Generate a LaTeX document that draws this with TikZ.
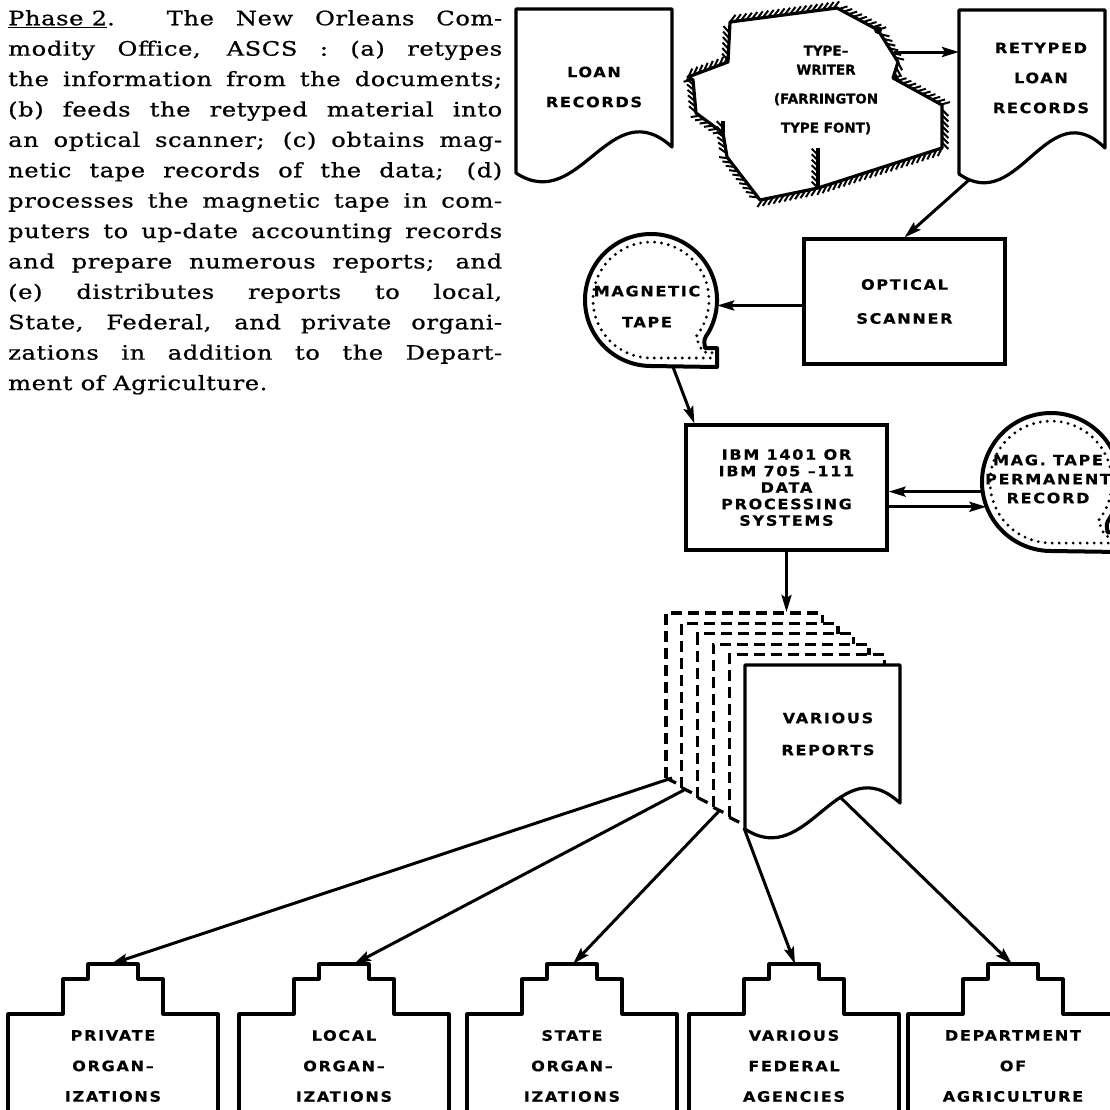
\documentclass[tikz,border=0pt]{standalone}
\usepackage{fontspec}
\usetikzlibrary{arrows.meta,decorations.pathreplacing}

\newfontfamily\txtfont{DejaVu Serif}[FakeStretch=1.22,LetterSpace=3,FakeBold=0.8]
\newfontfamily\lblfont{DejaVu Sans}[FakeStretch=1.12,LetterSpace=12,FakeBold=0.5]
\newfontfamily\twfont{DejaVu Sans}[FakeBold=0.8]

% one justified line of the paragraph
\newcommand{\jl}[1]{\makebox[494pt][s]{#1}}

% document outline: x0, y0, width
\newcommand{\drawdoc}[3]{%
  \draw[docline] (#1,#2+164) -- (#1,#2) -- (#1+#3,#2) -- (#1+#3,#2+138)
    .. controls (#1+0.6*#3,#2+81) and (#1+0.41*#3,#2+206) .. cycle;}

% tape reel: centre x, centre y, radius
\newcommand{\drawreel}[3]{%
  \pgfmathsetmacro{\ri}{#3-8}%
  \draw[reel] (#1,#2) ++(-30:#3pt) arc[start angle=-30, end angle=270, radius=#3pt]
    -- (#1+#3,#2+#3+1) -- (#1+#3,#2+0.73*#3) -- (#1+0.82*#3,#2+0.73*#3)
    .. controls (#1+0.8*#3,#2+0.6*#3) .. cycle;
  \draw[dots] (#1,#2) ++(-38:\ri pt) arc[start angle=-38, end angle=270, radius=\ri pt]
    -- (#1+#3-5,#2+\ri) -- (#1+#3-5,#2+0.73*#3+4) -- (#1+0.82*#3-2,#2+0.73*#3+4)
    .. controls (#1+0.8*#3-6,#2+0.65*#3) .. cycle;}

\begin{document}
\begin{tikzpicture}[x=1pt, y=-1pt,
  docline/.style={line width=3.2pt, line join=round},
  twline/.style={line width=3.2pt, line join=round},
  hatch/.style={postaction={draw, line width=2pt, decorate,
      decoration={border, segment length=5.5pt, amplitude=9pt, angle=45}}},
  reel/.style={line width=4pt, line join=round},
  dots/.style={line width=3.2pt, line cap=round, dash pattern=on 0pt off 7pt},
  page/.style={line width=3.2pt, dash pattern=on 11pt off 6pt},
  box/.style={draw, line width=3.2pt, inner sep=0},
  arr/.style={line width=3pt, -{Stealth[length=17pt, width=10pt, inset=3pt]}},
  lbl/.style={font={\lblfont\bfseries\fontsize{14.3}{#1}\selectfont}, align=center, inner sep=0},
  lbl/.default=30]

\useasboundingbox (0,0) rectangle (1110,1109);
\clip (0,0) rectangle (1110,1109);

% text
\node[anchor=north west, inner sep=0, align=left,
      font={\txtfont\fontsize{19.8}{30.4}\selectfont}] (phase) at (8,10) {%
  \jl{\underline{Phase 2}. The New Orleans Com-}\\
  \jl{modity Office, ASCS : (a) retypes}\\
  \jl{the information from the documents;}\\
  \jl{(b) feeds the retyped material into}\\
  \jl{an optical scanner; (c) obtains mag-}\\
  \jl{netic tape records of the data; (d)}\\
  \jl{processes the magnetic tape in com-}\\
  \jl{puters to up-date accounting records}\\
  \jl{and prepare numerous reports; and}\\
  \jl{(e) distributes reports to local,}\\
  \jl{State, Federal, and private organi-}\\
  \jl{zations in addition to the Depart-}\\
  ment of Agriculture.};

% loan records
\drawdoc{516}{9}{156}
\node[lbl] (loan) at (594,87) {LOAN\\RECORDS};

% typewriter
\draw[twline, hatch] (730,22) -- (837,8) -- (878,30) -- (898,62) -- (893,78)
  -- (942,105) -- (942,148) -- (818,188) -- (760,200) -- (727,157) -- (723,133)
  -- (696,113) -- (693,80) -- (688,77) -- (728,62) -- cycle;
\draw[twline, hatch] (818,188) -- (818,148);
\draw[twline, hatch] (723,133) -- (723,121);
\fill (878,30) circle (4pt);
\node[inner sep=0, align=center, font={\twfont\bfseries\fontsize{13.5}{29}\selectfont}]
  (typewriter) at (826,90) {TYPE–\\[-10pt]WRITER\\(FARRINGTON\\TYPE FONT)};
\coordinate (tw-e) at (894,52);

% retyped loan records
\drawdoc{959}{10}{146}
\node[lbl] (retyped) at (1041,78) {RETYPED\\LOAN\\RECORDS};
\coordinate (rt-w) at (959,92);
\coordinate (rt-b) at (970,179);

% scanner and tapes
\node[box, lbl=34, minimum width=201pt, minimum height=125pt] (scanner) at (904.5,301.5) {OPTICAL\\SCANNER};

\drawreel{651}{300}{66}
\node[circle, minimum size=132pt, inner sep=0] (tape) at (651,300) {};
\node[lbl=31] (tapetxt) at (647,306.5) {MAGNETIC\\TAPE};
\coordinate (tape-b) at (673,367);

\node[box, lbl=16.5, minimum width=201pt, minimum height=125pt] (ibm) at (786.5,487.5)
  {IBM 1401 OR\\IBM 705 –111\\DATA\\PROCESSING\\SYSTEMS};

\drawreel{1051}{482}{69}
\node[circle, minimum size=138pt, inner sep=0] (perm) at (1051,482) {};
\node[lbl=19] (permtxt) at (1048,479) {MAG. TAPE\\PERMANENT\\RECORD};

% reports stack
\foreach \pg in {1,...,5} {
  \pgfmathsetmacro{\xl}{745-15.8*\pg}
  \pgfmathsetmacro{\yt}{665-10.4*\pg}
  \pgfmathsetmacro{\xr}{900-15.5*\pg}
  \pgfmathsetmacro{\yn}{665-10.4*(\pg-1)}
  \pgfmathsetmacro{\yb}{827-9.8*\pg}
  \draw[page] (\xl,\yb) -- (\xl,\yt) -- (\xr,\yt) -- (\xr,\yn);
  \draw[docline] (\xl,\yb) -- ++(10,5);
}
\drawdoc{745}{665}{155}
\node[lbl=32] (reports) at (828,734) {VARIOUS\\REPORTS};
\coordinate (rp-top) at (790,612);

% receivers
\foreach \cx/\tx/\nm/\txt in {113/111/priv/{PRIVATE\\ORGAN–\\IZATIONS},
    344/354/local/{LOCAL\\ORGAN–\\IZATIONS},
    572/573/state/{STATE\\ORGAN–\\IZATIONS},
    794/795/fed/{VARIOUS\\FEDERAL\\AGENCIES},
    1013/1012/dept/{DEPARTMENT\\OF\\AGRICULTURE}} {
  \draw[docline] (\cx-105,1125) -- (\cx-105,1014) -- (\cx-50,1014) -- (\cx-50,979)
    -- (\cx-25,979) -- (\cx-25,964) -- (\cx+25,964) -- (\cx+25,979) -- (\cx+50,979)
    -- (\cx+50,1014) -- (\cx+105,1014) -- (\cx+105,1125);
  \node[lbl=30.5] (\nm) at (\cx,1066) {\txt};
  \coordinate (\nm-top) at (\tx,964);
}
\coordinate (s-priv) at (672,778);
\coordinate (s-local) at (684,790);
\coordinate (s-state) at (720,810);
\coordinate (s-fed) at (744,828);
\coordinate (s-dept) at (840,797);

% flow
\draw[arr] (tw-e) -- (tw-e -| rt-w);
\draw[arr] (rt-b) -- (scanner.north);
\draw[arr] ([yshift=-4pt]scanner.west) -- ([yshift=-4pt]scanner.west -| tape.east);
\draw[arr] (tape-b) -- ([xshift=10pt]ibm.north west);
\draw[arr] (perm.188) -- (perm.188 -| ibm.east);
\draw[arr] (ibm.east |- perm.201) -- (perm.201);
\draw[arr] (ibm.south) -- (ibm.south |- rp-top);
\foreach \nm in {priv,local,state,fed,dept}
  \draw[arr] (s-\nm) -- (\nm-top);

\end{tikzpicture}
\end{document}
